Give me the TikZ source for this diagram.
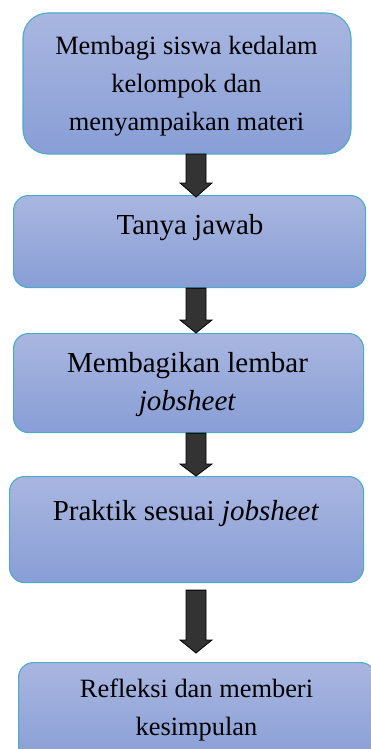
\documentclass[tikz,border=0pt]{standalone}
\usepackage{fontspec}
\setmainfont{Liberation Serif}
\usetikzlibrary{calc}
\definecolor{boxtop}{HTML}{A9B6E0}
\definecolor{boxbot}{HTML}{889ED6}
\definecolor{boxline}{HTML}{4BACC6}
\definecolor{arrowfill}{HTML}{333333}
\tikzset{
  stepbox/.style={draw=boxline, line width=1.1pt, top color=boxtop, bottom color=boxbot, rounded corners=15pt, inner sep=0pt},
  bigtext/.style={font=\fontsize{29}{38}\selectfont, align=center, inner sep=0pt},
  smalltext/.style={font=\fontsize{26.4}{38}\selectfont, align=center, inner sep=0pt},
  blockarrow/.style={fill=arrowfill, draw=black, line width=0.8pt, line join=miter},
}
\newcommand{\blockarr}[3]{% from coord, shaft end y offset, tip coord
  \draw[blockarrow] ($(#1)+(-10,0)$) -- ($(#1)+(10,0)$) -- ($(#3)+(10,#2)$) -- ($(#3)+(16,#2)$) -- (#3) -- ($(#3)+(-16,#2)$) -- ($(#3)+(-10,#2)$) -- cycle;
}
\begin{document}
\begin{tikzpicture}[x=1pt,y=-1pt]
\useasboundingbox (0,0) rectangle (371,749);
\begin{scope}
\clip (0,0) rectangle (371,749);
\path[stepbox, rounded corners=25pt] (23,13) rectangle (351,154);
\node[stepbox, anchor=north west, minimum width=352pt, minimum height=92pt] (b2) at (13,195) {};
\node[stepbox, anchor=north west, minimum width=350pt, minimum height=99pt] (b3) at (13,333) {};
\node[stepbox, anchor=north west, minimum width=354pt, minimum height=106pt] (b4) at (9,476) {};
\node[stepbox, anchor=north west, minimum width=357pt, minimum height=100pt] (b5) at (18,662) {};
\end{scope}
\coordinate (b1s) at (196,154);
\node[smalltext] (t1) at (186.5,86) {Membagi siswa kedalam\\kelompok dan\\menyampaikan materi};
\node[bigtext] (t2) at (190,228) {Tanya jawab};
\node[bigtext] (t3) at (187.5,385) {Membagikan lembar\\\textit{jobsheet}};
\node[bigtext] (t4) at (186,514) {Praktik sesuai \textit{jobsheet}};
\node[smalltext] (t5) at (196.5,710) {Refleksi dan memberi\\kesimpulan};
% arrows
\coordinate (a1s) at (b1s);
\coordinate (a1t) at (196,197);
\blockarr{a1s}{-14}{a1t}
\coordinate (a2s) at (b2.south -| b1s);
\coordinate (a2t) at (b3.north -| b1s);
\blockarr{a2s}{-13}{a2t}
\coordinate (a3s) at (b3.south -| b1s);
\coordinate (a3t) at (b4.north -| b1s);
\blockarr{a3s}{-12}{a3t}
\coordinate (a4s) at ($(b4.south -| b1s)+(0,7)$);
\coordinate (a4t) at ($(b5.north -| b1s)+(0,-9)$);
\blockarr{a4s}{-13}{a4t}
\end{tikzpicture}
\end{document}
